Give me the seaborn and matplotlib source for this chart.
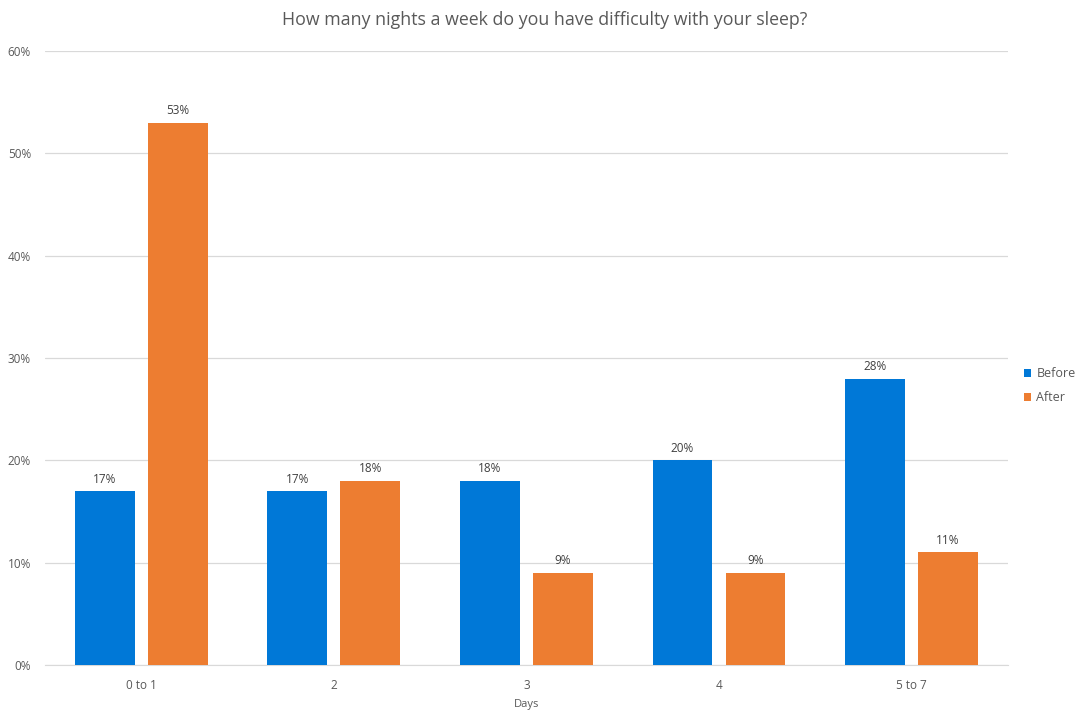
import matplotlib
matplotlib.use("Agg")
import matplotlib.pyplot as plt
import seaborn as sns
import pandas as pd

days = ["0 to 1", "2", "3", "4", "5 to 7"]
before = [17, 17, 18, 20, 28]
after = [53, 18, 9, 9, 11]

df = pd.DataFrame({
    "Days": days * 2,
    "Share": before + after,
    "When": ["Before"] * len(days) + ["After"] * len(days),
})

sns.set_style("white")
plt.rcParams["font.family"] = ["Open Sans", "DejaVu Sans"]
grey = "#595959"

fig = plt.figure(figsize=(10.78, 7.11), dpi=100)
ax = fig.add_axes([0.0417, 0.0647, 0.8933, 0.8633])

sns.barplot(data=df, x="Days", y="Share", hue="When",
            palette={"Before": "#0078D7", "After": "#ED7D31"},
            saturation=1, linewidth=0, edgecolor="none",
            width=0.758, gap=0.18, ax=ax, zorder=3)

for c in ax.containers:
    ax.bar_label(c, fmt="{:.0f}%", padding=4, fontsize=8.5, color="#404040")

ax.set_ylim(0, 60)
ax.set_yticks(range(0, 61, 10))
ax.set_yticklabels([f"{v}%" for v in range(0, 61, 10)])
ax.set_xlim(-0.5, 4.5)
ax.yaxis.grid(True, color="#d9d9d9", linewidth=0.9, zorder=0)
ax.tick_params(axis="both", length=0, labelsize=8.5, colors=grey)
ax.tick_params(axis="y", pad=10)
ax.tick_params(axis="x", pad=10)
for s in ["top", "right", "left"]:
    ax.spines[s].set_visible(False)
ax.spines["bottom"].set_color("#d9d9d9")

ax.set_xlabel("Days", fontsize=8, color=grey, labelpad=5)
ax.set_ylabel("")
fig.suptitle("How many nights a week do you have difficulty with your sleep?",
             x=0.505, y=0.985, fontsize=12.8, color=grey)

leg = ax.legend(loc="center left", bbox_to_anchor=(1.005, 0.455), frameon=False,
                fontsize=9, handlelength=0.6, handleheight=0.6,
                handletextpad=0.4, labelspacing=0.9)
for t in leg.get_texts():
    t.set_color(grey)

fig.savefig("out.png", dpi=100)
